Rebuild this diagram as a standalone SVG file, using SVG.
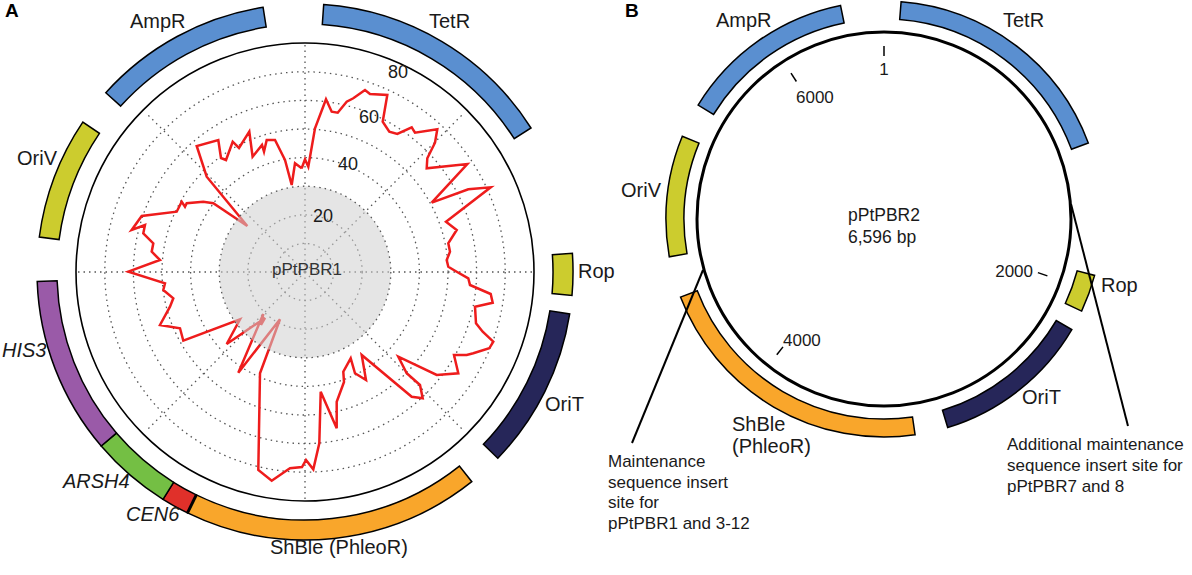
<svg xmlns="http://www.w3.org/2000/svg" width="1192" height="575" viewBox="0 0 1192 575">
<style>
text{font-family:"Liberation Sans",Arial,sans-serif;fill:#1a1a1a}
.lbl{font-size:20px}
.it{font-style:italic}
.num{font-size:18px}
.tk{font-size:17px}
.ann{font-size:17px}
.hd{font-size:19px;font-weight:bold;fill:#000}
.gene{stroke:#000;stroke-width:1.5}
.dot{fill:none;stroke:#555;stroke-width:1.3;stroke-dasharray:1.5 4}
.blue{fill:#5a8fd0}.yel{fill:#cccc2e}.pur{fill:#9a5aa8}.grn{fill:#74bf44}.red{fill:#e0302a}.org{fill:#f9a62b}.nav{fill:#262659}
</style>
<g id="panelA">
  <g id="gridA">
    <circle class="dot" cx="305" cy="272" r="28.6"/>
    <circle class="dot" cx="305" cy="272" r="57.2"/>
    <circle class="dot" cx="305" cy="272" r="114.4"/>
    <circle class="dot" cx="305" cy="272" r="143"/>
    <circle class="dot" cx="305" cy="272" r="171.6"/>
    <circle class="dot" cx="305" cy="272" r="200.2"/>
    <path class="dot" d="M305 272V44M305 272V500M305 272H77M305 272H533M305 272L146 113M305 272L464 113M305 272L146 431M305 272L464 431"/>
  </g>
  <polyline id="gcA" fill="none" stroke="#ee1c1c" stroke-width="2.5" stroke-linejoin="miter" points="301.7,168.3 305,159.3 308.3,166.7 315,128.3 326,99.3 331.7,111.7 337.7,112.7 346.7,101.7 353.3,98.3 365,90 370,94 387.3,95 382.7,121.7 389.3,131.7 397.3,134 411.7,127.3 415,132.7 437.3,129.3 435,142.7 427.3,158.3 426.7,168.3 467.3,164 431.7,202.7 468.3,189.3 490.7,187.3 446,221.7 456.7,230 448.3,243.3 450,251.7 446.7,260 448.3,266.7 456.7,271.7 468.3,278.3 470,285 490.7,294 492.7,302.7 475,306.7 476,323.3 482.7,331.7 493.3,341.7 489.3,348.3 473.3,353.3 466.7,355 454,355 458.3,373.3 436.7,375 398.3,356.7 406.7,373.3 420,385 422.7,398.3 411.7,396.7 361.7,355 366,380 355,373.3 350.7,358.3 343.3,371.7 344,382 336.7,401.7 336.7,428.3 320.7,391.7 319.3,443.3 313.3,469.3 306,460 302,467 290,468.3 283.3,472.7 271.7,480.7 258.3,470 260,373.3 280,319.3 238.3,372.7 263.3,314 261,325 265,318 226.7,344 240,319.3 183.3,340.7 180,328.3 160,325 170,306.7 173.3,298.3 163.3,290 165,283.3 128.3,271.7 160,260 151.7,251.7 153.3,243.3 143.3,233.3 145,225 131.7,230 141.7,216 176.7,211.7 181.7,201.7 185,206.7 186.7,203.3 203.3,201.7 213.3,203.3 247.3,226 206.7,176.7 196.7,146 218.3,140 221,158 226,160 232.7,141.7 239,148 249.3,131.7 252.6,156.7 262,145 264,151.7 266.7,140 275,140 285,160 291.7,185 295,163.3 301.7,168.3"/>
  <circle id="coreA" cx="305" cy="272" r="85.8" fill="#cfcfcf" fill-opacity="0.55"/>
  <circle class="dot" cx="305" cy="272" r="85.8"/>
  <circle cx="305" cy="272" r="229" fill="none" stroke="#000" stroke-width="1.6"/>
  <text class="num" x="398" y="78" text-anchor="middle">80</text>
  <text class="num" x="369" y="123" text-anchor="middle">60</text>
  <text class="num" x="348" y="170" text-anchor="middle">40</text>
  <text class="num" x="323" y="222" text-anchor="middle">20</text>
  <text x="307" y="275" text-anchor="middle" style="font-size:17px;fill:#333">pPtPBR1</text>
  <g id="A_AmpR"><path class="gene blue" d="M105.8 92.7A268 268 0 0 1 263.1 7.3L266.2 27.1A248 248 0 0 0 120.7 106.1Z"/><text class="lbl" x="130" y="28">AmpR</text></g>
  <g id="A_TetR"><path class="gene blue" d="M323.7 4.6A268 268 0 0 1 531 128L514.2 138.7A248 248 0 0 0 322.3 24.6Z"/><text class="lbl" x="429" y="28">TetR</text></g>
  <g id="A_Rop"><path class="gene yel" d="M572.4 253.3A268 268 0 0 1 572 295.4L552.1 293.6A248 248 0 0 0 552.4 254.7Z"/><text class="lbl" x="578" y="278">Rop</text></g>
  <g id="A_OriT"><path class="gene nav" d="M569.7 313.9A268 268 0 0 1 497.8 458.2L483.4 444.3A248 248 0 0 0 549.9 310.8Z"/><text class="lbl" x="545" y="411">OriT</text></g>
  <g id="A_ShBle"><path class="gene org" d="M471.8 481.7A268 268 0 0 1 187.5 512.9L196.3 494.9A248 248 0 0 0 459.4 466.1Z"/><text class="lbl" x="270" y="554">ShBle (PhleoR)</text></g>
  <g id="A_CEN6"><path class="gene red" d="M187.5 512.9A268 268 0 0 1 163 499.3L173.6 482.3A248 248 0 0 0 196.3 494.9Z"/><line x1="187.5" y1="512.9" x2="196.3" y2="494.9" stroke="#000" stroke-width="3"/><text class="lbl it" x="126" y="521">CEN6</text></g>
  <g id="A_ARSH4"><path class="gene grn" d="M163 499.3A268 268 0 0 1 101.2 446L116.4 433.1A248 248 0 0 0 173.6 482.3Z"/><text class="lbl it" x="63" y="488">ARSH4</text></g>
  <g id="A_HIS3"><path class="gene pur" d="M101.2 446A268 268 0 0 1 37.2 281.4L57.1 280.7A248 248 0 0 0 116.4 433.1Z"/><text class="lbl it" x="2" y="357">HIS3</text></g>
  <g id="A_OriV"><path class="gene yel" d="M39.3 237A268 268 0 0 1 82.8 122.1L99.4 133.3A248 248 0 0 0 59.1 239.6Z"/><text class="lbl" x="17" y="165">OriV</text></g>
  <text class="hd" x="5" y="17">A</text>
</g>
<g id="panelB">
  <circle cx="884" cy="219" r="187" fill="none" stroke="#000" stroke-width="3"/>
  <g id="ticksB" stroke="#000" stroke-width="1.5">
    <line x1="884" y1="56" x2="884" y2="46"/>
    <line x1="796.4" y1="81.5" x2="791" y2="73.1"/>
    <line x1="1037.9" y1="272.6" x2="1047.4" y2="275.9"/>
    <line x1="783" y1="346.9" x2="776.8" y2="354.8"/>
  </g>
  <text class="tk" x="884" y="75" text-anchor="middle">1</text>
  <text class="tk" x="796" y="103">6000</text>
  <text class="tk" x="1033" y="277" text-anchor="end">2000</text>
  <text class="tk" x="783" y="346">4000</text>
  <text x="848" y="221" style="font-size:17.5px">pPtPBR2</text>
  <text x="848" y="243" style="font-size:17.5px">6,596 bp</text>
  <g id="B_AmpR"><path class="gene blue" d="M698.1 105.1A218 218 0 0 1 840.5 5.4L844.1 23A200 200 0 0 0 713.5 114.5Z"/><text class="lbl" x="716" y="27">AmpR</text></g>
  <g id="B_TetR"><path class="gene blue" d="M901.1 1.7A218 218 0 0 1 1088.3 143L1071.5 149.3A200 200 0 0 0 899.7 19.6Z"/><text class="lbl" x="1003" y="27">TetR</text></g>
  <g id="B_Rop"><path class="gene yel" d="M1094.6 275.4A218 218 0 0 1 1081.6 311.1L1065.3 303.5A200 200 0 0 0 1077.2 270.8Z"/><text class="lbl" x="1101" y="292">Rop</text></g>
  <g id="B_OriT"><path class="gene nav" d="M1071.8 329.6A218 218 0 0 1 947.7 427.5L942.5 410.3A200 200 0 0 0 1056.3 320.5Z"/><text class="lbl" x="1022" y="404">OriT</text></g>
  <g id="B_ShBle"><path class="gene org" d="M915.1 434.8A218 218 0 0 1 680.5 297.1L697.3 290.7A200 200 0 0 0 912.5 417Z"/><text class="lbl" x="732" y="431">ShBle</text><text class="lbl" x="732" y="453">(PhleoR)</text></g>
  <g id="B_OriV"><path class="gene yel" d="M669.3 256.8A218 218 0 0 1 682.3 136.3L699 143.1A200 200 0 0 0 687 253.7Z"/><text class="lbl" x="621" y="197">OriV</text></g>
  <g id="leaders" stroke="#000" stroke-width="2">
    <line x1="703" y1="270" x2="632" y2="443"/>
    <line x1="1071" y1="204" x2="1128" y2="426"/>
  </g>
  <g id="noteL"><text class="ann" x="608" y="467">Maintenance</text><text class="ann" x="608" y="488">sequence insert</text><text class="ann" x="608" y="508">site for</text><text class="ann" x="608" y="529">pPtPBR1 and 3-12</text></g>
  <g id="noteR"><text class="ann" x="1007" y="450">Additional maintenance</text><text class="ann" x="1007" y="471">sequence insert site for</text><text class="ann" x="1007" y="492">pPtPBR7 and 8</text></g>
  <text class="hd" x="625" y="17">B</text>
</g>
</svg>
